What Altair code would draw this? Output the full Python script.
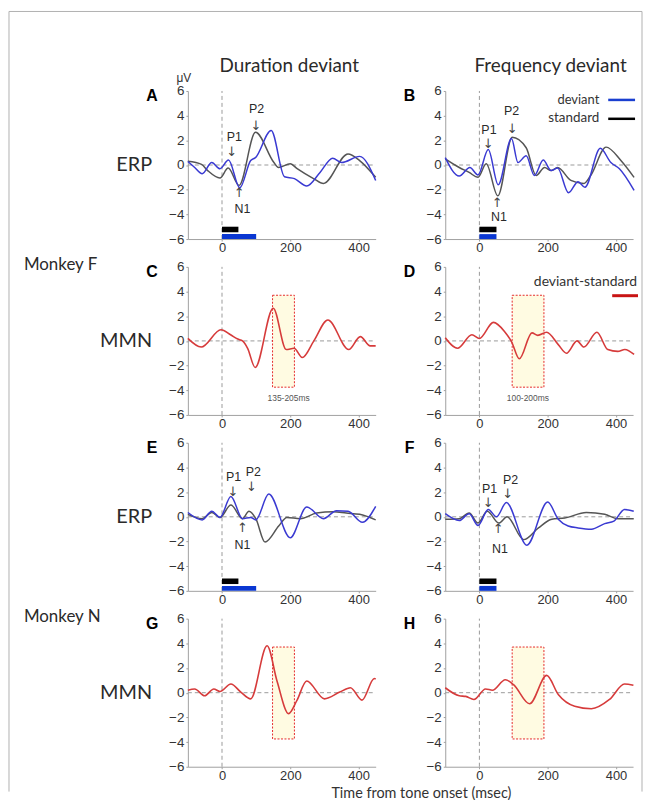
import altair as alt
import pandas as pd

# ---------------- data ----------------
# Panel A: duration deviant, monkey F
A_dev_t = [-100, -80, -58, -30, -6, 19, 52, 84, 98, 144, 183, 212, 248, 287, 324, 350, 403, 450]
A_dev_v = [0.28, -0.2, -0.7, 0.2, -0.3, 0.4, -1.85, 0.36, 0.6, 2.8, -0.95, -1.1, -1.7, -0.6, 0.55, 0.2, 0.7, -1.25]
A_std_t = [-100, -60, -42, -6, 18, 50, 98, 152, 165, 200, 220, 268, 297, 369, 403, 450]
A_std_v = [0.3, 0.05, -0.45, -1.05, -0.25, -1.65, 2.65, 0.2, -0.2, 0.1, -0.3, -1.1, -1.5, 0.9, 0.36, -1.0]

# Panel B: frequency deviant, monkey F
B_dev_t = [-100, -59, -28, -4, 26, 55, 94, 113, 137, 161, 187, 210, 229, 261, 289, 309, 354, 385, 410, 453]
B_dev_v = [0.6, -0.9, -0.2, -0.8, 1.25, -1.6, 2.15, 0.2, 0.75, -0.85, 0.4, -0.45, -0.25, -2.25, -1.35, -1.8, 1.35, 0.2, -0.3, -2.05]
B_std_t = [-100, -59, -30, -4, 20, 54, 96, 137, 166, 191, 210, 229, 268, 306, 326, 371, 415, 453]
B_std_v = [0.5, -0.2, -0.6, -1.0, 0.1, -2.5, 2.25, 1.4, -0.85, -0.2, -0.45, -0.2, -1.25, -1.5, -0.85, 1.45, 0.35, -1.0]

# Panel C: MMN duration, monkey F
C_t = [-100, -61, -3, 25, 46, 60, 75, 97, 150, 188, 211, 235, 269, 310, 371, 405, 434, 450]
C_v = [0.2, -0.5, 0.9, 0.5, 0.15, 0.0, -0.6, -2.15, 2.65, -0.7, -0.6, -1.35, 0.0, 1.7, -0.7, 0.35, -0.4, -0.4]

# Panel D: MMN frequency, monkey F
D_t = [-100, -64, -22, 0, 41, 74, 94, 117, 154, 171, 197, 231, 255, 286, 306, 344, 376, 405, 426, 453]
D_v = [0.25, -0.6, 0.5, 0.2, 1.5, 0.75, -0.05, -1.45, 0.65, 0.45, 0.7, -0.3, -1.0, 0.0, -0.5, 0.7, -0.7, -0.85, -0.7, -1.1]

# Panel E: duration deviant, monkey N
E_dev_t = [-100, -58, -30, -6, 26, 60, 84, 99, 137, 200, 248, 297, 335, 369, 411, 450]
E_dev_v = [0.35, -0.25, 0.45, -0.05, 1.65, -0.15, -0.05, -0.25, 1.85, -1.7, 0.8, -0.15, 0.5, 0.45, -0.45, 0.85]
E_std_t = [-100, -58, -30, -6, 26, 60, 79, 99, 126, 166, 190, 229, 277, 326, 364, 403, 450]
E_std_v = [0.2, -0.15, 0.35, -0.05, 0.95, -0.15, 0.45, -0.15, -2.05, -0.75, -0.05, -0.15, 0.3, 0.4, 0.3, 0.2, -0.25]

# Panel F: frequency deviant, monkey N
F_dev_t = [-100, -59, -30, -4, 26, 50, 79, 139, 200, 231, 260, 289, 328, 367, 394, 425, 452]
F_dev_v = [0.25, -0.3, 0.25, -0.7, 0.6, 0.0, 1.15, -2.3, 1.2, -0.2, -0.75, -0.9, -1.0, -0.55, -0.35, 0.6, 0.45]
F_std_t = [-100, -59, -30, -4, 23, 57, 81, 130, 173, 212, 250, 313, 367, 405, 452]
F_std_v = [-0.2, -0.15, 0.3, -0.5, 0.45, -0.5, 0.0, -1.85, -0.9, -0.2, -0.1, 0.35, 0.2, -0.15, -0.15]

# Panel G: MMN duration, monkey N
G_t = [-100, -80, -51, -24, -6, 26, 55, 84, 132, 161, 195, 219, 248, 300, 345, 376, 410, 446, 450]
G_v = [0.2, 0.3, -0.25, 0.3, 0.1, 0.7, 0.05, -0.5, 3.8, 0.95, -1.7, -0.65, 0.95, -0.5, 0.05, 0.4, -0.6, 1.15, 1.1]

# Panel H: MMN frequency, monkey N
H_t = [-100, -59, -40, -16, 18, 38, 76, 100, 147, 197, 231, 279, 328, 381, 425, 451]
H_v = [0.4, -0.25, -0.3, -0.55, 0.3, 0.2, 1.05, 0.65, -0.9, 1.4, -0.15, -1.1, -1.3, -0.55, 0.7, 0.6]

# analysis windows (ms) and their labels
BOX_DUR = [148, 212]
BOX_FREQ = [96, 189]
BOX_Y = [-3.75, 3.7]
BOX_LABELS = ["135-205ms", "100-200ms"]

# stimulus bars (ms)
STIM_STD_DUR = [0, 48]
STIM_DEV_DUR = [0, 100]
STIM_STD_FREQ = [0, 50]
STIM_DEV_FREQ = [0, 50]

# peak annotations: labels and arrows (time, value)
LAB_S = ["P1", "P2", "N1"]
ARR_S = ["\u2193", "\u2193", "\u2191"]
LAB_A_t, LAB_A_v = [36, 101, 60], [2.3, 4.5, -3.6]
ARR_A_t, ARR_A_v = [28, 99, 50], [1.05, 3.2, -2.3]
LAB_B_t, LAB_B_v = [28, 94, 57], [2.85, 4.35, -4.25]
ARR_B_t, ARR_B_v = [26, 96, 52], [1.7, 2.95, -3.05]
LAB_E_t, LAB_E_v = [34, 92, 60], [3.25, 3.65, -2.3]
ARR_E_t, ARR_E_v = [32, 86, 60], [2.0, 2.45, -0.95]
LAB_F_t, LAB_F_v = [30, 91, 60], [2.25, 2.95, -2.65]
ARR_F_t, ARR_F_v = [26, 83, 55], [1.15, 1.85, -1.0]

X_TICKS = [0, 200, 400]
Y_TICKS = [-6, -4, -2, 0, 2, 4, 6]

# ---------------- styling ----------------
BLUE = "#3a3ad2"
GRAY = "#555555"
RED = "#d63b3b"
BLUE_BAR = "#0a37d2"
TXT = "#2a2a2a"
SANS = "Liberation Sans"
HUM = "Lato"
W, H = 189, 149

XSC = alt.Scale(domain=[-100, 450], nice=False, zero=False)
YSC = alt.Scale(domain=[-6, 6], nice=False, zero=False)
XAX = alt.Axis(values=X_TICKS, title=None, format="d")
YAX = alt.Axis(values=Y_TICKS, title=None, format="d")
ONE = pd.DataFrame({"k": [0]})


def xenc(f):
    return alt.X(f, type="quantitative", scale=XSC, axis=XAX)


def yenc(f):
    return alt.Y(f, type="quantitative", scale=YSC, axis=YAX)


def zero_lines():
    v = alt.Chart(pd.DataFrame({"t": [0], "a": [-6], "b": [6]})).mark_rule(
        color="#9a9a9a", strokeDash=[4, 3], strokeWidth=1
    ).encode(x=xenc("t"), y=yenc("a"), y2="b")
    h = alt.Chart(pd.DataFrame({"a": [-100], "b": [450], "v": [0]})).mark_rule(
        color="#9a9a9a", strokeDash=[4, 3], strokeWidth=1
    ).encode(x=xenc("a"), x2="b", y=yenc("v"))
    return [v, h]


def curve(t, v, color, width=1.5):
    return alt.Chart(pd.DataFrame({"t": t, "v": v})).mark_line(
        color=color, strokeWidth=width, interpolate="monotone"
    ).encode(x=xenc("t"), y=yenc("v"))


def rect(t01, v01, **mk):
    df = pd.DataFrame({"t0": [t01[0]], "t1": [t01[1]], "v0": [v01[0]], "v1": [v01[1]]})
    return alt.Chart(df).mark_rect(**mk).encode(x=xenc("t0"), x2="t1", y=yenc("v0"), y2="v1")


def dtext(ts, vs, labels, size=13, color=TXT, font=SANS):
    df = pd.DataFrame({"t": ts, "v": vs, "s": labels})
    return alt.Chart(df).mark_text(fontSize=size, font=font, color=color).encode(
        x=xenc("t"), y=yenc("v"), text="s:N"
    )


def ptext(txt, x, y, size, font=HUM, align="center", baseline="middle", bold=False, color=TXT):
    return alt.Chart(ONE).mark_text(
        text=txt, fontSize=size, font=font, align=align, baseline=baseline,
        fontWeight="bold" if bold else "normal", color=color
    ).encode(x=alt.value(x), y=alt.value(y))


def prule(x, x2, y, y2, color, width):
    return alt.Chart(ONE).mark_rule(color=color, strokeWidth=width).encode(
        x=alt.value(x), x2=alt.value(x2), y=alt.value(y), y2=alt.value(y2)
    )


def letter(ch):
    return ptext(ch, -36, 5, 16, font=SANS, bold=True, color="#000")


def erp_panel(dev_t, dev_v, std_t, std_v, stim_std, stim_dev, lab, arr, extra):
    layers = zero_lines() + [
        rect(stim_std, [-5.0, -5.45], color="#000000"),
        rect(stim_dev, [-5.6, -6.0], color=BLUE_BAR),
        curve(std_t, std_v, GRAY),
        curve(dev_t, dev_v, BLUE),
        dtext(lab[0], lab[1], LAB_S, size=12.5),
        dtext(arr[0], arr[1], ARR_S, size=13, font="DejaVu Sans", color="#444"),
    ] + extra
    return alt.layer(*layers).properties(width=W, height=H)


def mmn_panel(t, v, box, box_label, label_t, extra):
    layers = zero_lines() + [
        rect(box, BOX_Y, fill="#fffbe2", stroke="#e52a2a", strokeDash=[2, 1.5], strokeWidth=1),
        curve(t, v, RED, 1.6),
        dtext([label_t], [-4.65], [box_label], size=8.5, color="#555555", font=SANS),
    ] + extra
    return alt.layer(*layers).properties(width=W, height=H)


# frame around the whole figure (drawn from panel A)
frame = [
    prule(-180, -180, -80, 705, "#b0b0b0", 1),
    prule(-180, 457, -80, -80, "#b0b0b0", 1),
    prule(457, 457, -80, 705, "#b0b0b0", 1),
]

pA = erp_panel(A_dev_t, A_dev_v, A_std_t, A_std_v, STIM_STD_DUR, STIM_DEV_DUR,
               (LAB_A_t, LAB_A_v), (ARR_A_t, ARR_A_v),
               frame + [
                   ptext("Duration deviant", 102, -19, 19, baseline="alphabetic"),
                   ptext("\u03bcV", -4, -9, 12, font=SANS, baseline="alphabetic", color="#333"),
                   letter("A"),
                   ptext("ERP", -36, 74.5, 20, align="right"),
               ])

pB = erp_panel(B_dev_t, B_dev_v, B_std_t, B_std_v, STIM_STD_FREQ, STIM_DEV_FREQ,
               (LAB_B_t, LAB_B_v), (ARR_B_t, ARR_B_v),
               [
                   ptext("Frequency deviant", 106, -19, 19, baseline="alphabetic"),
                   letter("B"),
                   ptext("deviant", 155, 9, 13, align="right", color="#333"),
                   ptext("standard", 155, 27, 13.5, align="right", color="#333"),
                   prule(164, 191, 9, 9, "#1a3fd0", 2.5),
                   prule(164, 191, 28, 28, "#000000", 2.5),
               ])

pC = mmn_panel(C_t, C_v, BOX_DUR, BOX_LABELS[0], 195,
               [
                   letter("C"),
                   ptext("MMN", -36, 74.5, 20, align="right"),
                   ptext("Monkey F", -165, 3, 17, align="left", baseline="alphabetic"),
               ])

pD = mmn_panel(D_t, D_v, BOX_FREQ, BOX_LABELS[1], 142,
               [
                   letter("D"),
                   ptext("deviant-standard", 193, 15, 14, align="right", color="#333"),
                   prule(168, 194, 29, 29, "#c81414", 3),
               ])

pE = erp_panel(E_dev_t, E_dev_v, E_std_t, E_std_v, STIM_STD_DUR, STIM_DEV_DUR,
               (LAB_E_t, LAB_E_v), (ARR_E_t, ARR_E_v),
               [
                   letter("E"),
                   ptext("ERP", -36, 74.5, 20, align="right"),
               ])

pF = erp_panel(F_dev_t, F_dev_v, F_std_t, F_std_v, STIM_STD_FREQ, STIM_DEV_FREQ,
               (LAB_F_t, LAB_F_v), (ARR_F_t, ARR_F_v),
               [letter("F")])

pG = mmn_panel(G_t, G_v, BOX_DUR, "", 195,
               [
                   letter("G"),
                   ptext("MMN", -36, 74.5, 20, align="right"),
                   ptext("Monkey N", -165, 3, 17, align="left", baseline="alphabetic"),
                   ptext("Time from tone onset (msec)", 235, 180, 14.5, baseline="alphabetic", color="#333"),
               ])

pH = mmn_panel(H_t, H_v, BOX_FREQ, "", 142, [letter("H")])

chart = alt.concat(
    pA, pB, pC, pD, pE, pF, pG, pH,
    columns=2,
    spacing={"row": 28, "column": 70},
    bounds="flush",
    padding=0,
).configure_view(stroke=None).configure_axis(
    grid=False,
    domainColor="#a0a0a0",
    tickColor="#a0a0a0",
    labelColor="#333333",
    labelFont=SANS,
    labelFontSize=13.5,
    tickSize=2,
    labelPadding=2,
).configure_axisX(
    labelPadding=1,
    labelFontSize=13,
)

chart.save("out.html", embed_options={"renderer": "svg", "actions": False})
